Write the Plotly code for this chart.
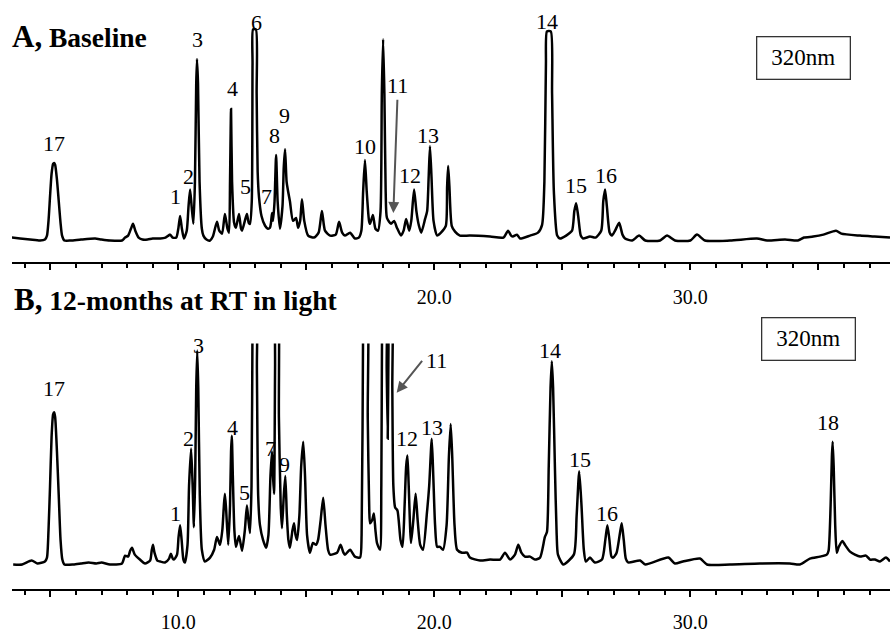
import plotly.graph_objects as go

# ---------------- data (retention time in min, absorbance in arbitrary units) -------------
time_a = [3.50,3.82,4.21,4.60,4.79,4.87,4.93,4.99,5.05,5.11,5.15,5.19,5.26,5.33,5.40,5.46,5.55,5.80,6.20,6.75,
          7.00,7.33,7.80,7.92,8.04,8.15,8.23,8.32,8.45,8.60,8.80,9.00,9.30,9.50,9.68,9.78,9.92,10.00,10.07,10.14,
          10.22,10.33,10.40,10.46,10.52,10.59,10.65,10.70,10.73,10.77,10.83,10.92,10.98,11.10,11.24,11.35,11.51,11.60,11.71,11.82,
          11.92,11.98,12.02,12.06,12.10,12.18,12.25,12.37,12.45,12.49,12.60,12.68,12.75,12.80,12.87,12.90,12.92,13.03,13.06,13.10,
          13.15,13.25,13.39,13.50,13.58,13.62,13.66,13.70,13.76,13.82,13.88,13.97,14.07,14.12,14.17,14.23,14.29,14.36,14.48,14.60,
          14.68,14.76,14.83,14.92,15.07,15.30,15.48,15.61,15.73,15.93,16.15,16.28,16.40,16.51,16.71,16.90,17.05,17.15,17.22,17.29,
          17.36,17.45,17.49,17.60,17.70,17.80,17.90,17.95,18.00,18.05,18.10,18.15,18.31,18.43,18.54,18.70,18.80,18.90,19.02,19.10,
          19.21,19.30,19.40,19.49,19.64,19.72,19.78,19.83,19.89,19.97,20.11,20.26,20.45,20.50,20.54,20.59,20.68,20.81,21.00,21.39,
          22.18,22.70,22.88,23.00,23.07,23.23,23.35,23.74,24.05,24.21,24.30,24.36,24.40,24.55,24.60,24.67,24.80,24.91,25.15,25.38,
          25.47,25.54,25.62,25.72,25.81,26.08,26.30,26.52,26.60,26.67,26.74,26.85,26.94,27.06,27.22,27.35,27.45,27.73,28.00,28.24,
          28.82,29.09,29.40,30.00,30.26,30.57,31.55,32.60,33.00,33.70,34.20,34.44,34.80,35.20,35.69,35.90,36.63,37.20,37.80]
abs_a = [3,2,1,0,1,5,20,45,68,78,79,77,62,40,18,5,0,0,1,2,
         1,0,0,3,5,12,17,10,3,1,1,2,2,3,6,3,3,12,25,12,
         2,10,35,52,35,17,60,160,185,160,60,12,5,1,0,4,19,10,7,27,
         12,8,60,134,60,18,13,27,12,10,20,27,18,17,40,180,215,215,150,70,
         45,25,15,12,13,18,28,20,40,87,40,12,35,75,93,60,50,40,20,23,
         13,20,42,20,5,3,8,30,10,5,6,19,8,5,8,2,3,10,50,82,
         50,20,17,26,12,10,30,150,205,150,50,23,17,20,13,5,10,22,10,20,
         52,30,15,8,22,30,65,96,65,20,5,8,15,55,76,55,15,9,5,5,
         4,3,10,5,4,6,2,5,8,16,60,180,213,213,150,50,5,2,5,10,
         30,38,25,5,2,4,3,10,40,52,35,8,5,10,18,6,2,0,5,0,
         0,5,0,0,6,0,0,2,0,1,0,3,4,6,10,7,5,4,3]

time_b = [3.55,3.90,4.27,4.50,4.79,4.87,4.93,4.99,5.05,5.11,5.15,5.19,5.26,5.33,5.40,5.47,5.55,5.90,6.20,6.50,
          6.80,7.00,7.33,7.80,7.92,8.04,8.12,8.19,8.30,8.50,8.70,8.90,8.96,9.01,9.07,9.18,9.29,9.48,9.64,9.71,
          9.78,9.83,9.95,10.01,10.07,10.13,10.20,10.26,10.36,10.42,10.50,10.56,10.61,10.66,10.70,10.74,10.78,10.84,10.92,11.04,
          11.24,11.40,11.51,11.63,11.72,11.78,11.82,11.87,11.95,12.02,12.06,12.09,12.13,12.19,12.25,12.37,12.49,12.60,12.68,12.74,
          12.80,12.86,12.90,12.92,13.04,13.07,13.12,13.19,13.31,13.43,13.52,13.60,13.66,13.70,13.74,13.78,13.82,13.88,13.93,14.00,
          14.05,14.12,14.18,14.24,14.30,14.36,14.46,14.52,14.58,14.64,14.73,14.80,14.88,14.95,15.03,15.14,15.26,15.38,15.46,15.56,
          15.66,15.75,15.85,15.93,16.20,16.34,16.45,16.51,16.71,16.90,17.10,17.16,17.22,17.25,17.36,17.40,17.46,17.49,17.57,17.64,
          17.70,17.76,17.88,17.93,17.96,17.99,18.10,18.14,18.18,18.21,18.24,18.33,18.36,18.40,18.47,18.56,18.68,18.76,18.84,18.90,
          18.95,19.00,19.09,19.18,19.27,19.35,19.45,19.56,19.71,19.80,19.90,19.96,20.03,20.11,20.22,20.34,20.48,20.57,20.64,20.70,
          20.79,20.89,21.08,21.28,21.39,21.79,22.18,22.57,22.76,22.96,23.15,23.28,23.40,23.54,23.74,23.93,24.13,24.32,24.40,24.47,
          24.54,24.59,24.64,24.71,24.78,24.83,25.04,25.45,25.56,25.66,25.75,25.84,25.92,26.08,26.27,26.55,26.68,26.76,26.84,26.92,
          26.99,27.12,27.24,27.32,27.40,27.48,27.57,28.04,28.24,29.14,29.40,29.71,30.38,30.65,31.55,32.72,33.89,34.28,34.67,35.06,
          35.33,35.40,35.48,35.53,35.56,35.60,35.66,35.72,35.80,35.94,36.04,36.24,36.43,36.63,36.86,37.02,37.21,37.41,37.64,37.80]
abs_b = [0,0,4,1,3,7,35,80,130,153,155,150,115,70,25,5,0,0,1,2,
         1,2,0,1,9,8,14,17,10,5,1,4,14,20,12,4,3,2,6,11,
         6,5,10,28,40,25,5,2,20,80,118,80,38,90,180,218,180,70,15,3,
         7,15,28,20,35,60,72,55,20,60,115,131,90,35,18,29,14,35,60,45,
         32,80,250,300,300,200,70,40,25,17,30,90,115,90,72,200,300,300,150,60,
         37,70,90,50,25,17,35,42,30,25,50,100,125,90,30,12,22,20,25,45,
         68,40,15,10,12,20,12,10,15,8,7,30,250,300,300,150,55,42,45,52,
         35,22,15,80,250,300,300,200,128,220,300,300,180,80,58,55,25,18,60,100,
         111,80,22,45,72,45,20,15,52,80,128,90,40,18,18,15,40,110,143,110,
         40,15,12,12,7,4,5,5,12,5,10,20,12,8,8,5,7,28,33,100,
         180,207,180,100,30,10,0,10,50,95,60,15,3,7,2,5,25,40,25,8,
         7,12,30,42,25,6,2,4,0,7,1,3,6,0,0,1,1,0,6,8,
         10,14,60,110,125,100,40,12,18,24,20,13,10,8,9,5,5,3,7,3]

major_ticks = [5, 10, 15, 20, 25, 30, 35]
ticktext_a = ["", "", "", "20.0", "", "30.0", ""]
ticktext_b = ["", "10.0", "", "20.0", "", "30.0", ""]
minor_ticks = [m for m in range(4, 38) if m % 5 != 0]

peak_labels_a = ["17", "1", "2", "3", "4", "5", "6", "7", "8", "9", "10", "11", "12", "13", "14", "15", "16"]
peak_pos_a = [(5.15, 99), (9.89, 45), (10.39, 65), (10.74, 205), (12.13, 155), (12.61, 55), (13.04, 222),
              (13.45, 45), (13.76, 107), (14.15, 127), (17.29, 96), (18.56, 158), (19.05, 66), (19.77, 107),
              (24.41, 223), (25.54, 56), (26.69, 66)]
peak_labels_b = ["17", "1", "2", "3", "4", "5", "6", "8", "7", "9", "10", "11", "12", "13", "14", "15", "16", "18"]
peak_pos_b = [(5.15, 179), (9.90, 52), (10.39, 128), (10.77, 223), (12.13, 140), (12.58, 73), (12.93, 238),
              (13.78, 238), (13.62, 118), (14.14, 102), (17.42, 239), (20.09, 208), (18.92, 128), (19.92, 140),
              (24.52, 218), (25.69, 107), (26.73, 52), (35.39, 145)]

SERIF = "Liberation Serif"
X_RANGE = [3.504, 37.80]

fig = go.Figure()
fig.add_trace(go.Scatter(x=time_a, y=abs_a, mode="lines", xaxis="x", yaxis="y",
                         line=dict(color="black", width=2.5, shape="spline", smoothing=0.6),
                         showlegend=False, hoverinfo="skip"))
fig.add_trace(go.Scatter(x=time_b, y=abs_b, mode="lines", xaxis="x2", yaxis="y2",
                         line=dict(color="black", width=2.5, shape="spline", smoothing=0.6),
                         showlegend=False, hoverinfo="skip"))


def xaxis_cfg(ticktext, anchor, standoff):
    return dict(domain=[0, 1], anchor=anchor, range=X_RANGE, showgrid=False, zeroline=False,
                showline=True, linecolor="black", linewidth=2,
                tickmode="array", tickvals=major_ticks, ticktext=ticktext,
                ticks="outside", ticklen=6, tickwidth=2, tickcolor="black",
                ticklabelstandoff=standoff,
                tickfont=dict(family=SERIF, size=20, color="black"),
                minor=dict(tickmode="array", tickvals=minor_ticks, ticks="outside",
                           ticklen=4, tickwidth=1.5, tickcolor="black", showgrid=False))


fig.update_layout(
    width=890, height=633,
    margin=dict(l=12, r=0, t=0, b=33),
    paper_bgcolor="white", plot_bgcolor="white",
    xaxis=xaxis_cfg(ticktext_a, "y", 10),
    yaxis=dict(domain=[333 / 600, 1], range=[-22, 245], visible=False, fixedrange=True),
    xaxis2=xaxis_cfg(ticktext_b, "y2", 8),
    yaxis2=dict(domain=[0, 250 / 600], range=[-25, 225], visible=False, fixedrange=True),
)

ann = []
for txt, (x, y) in zip(peak_labels_a, peak_pos_a):
    ann.append(dict(x=x, y=y, xref="x", yref="y", text=txt, showarrow=False,
                    font=dict(family=SERIF, size=22, color="black"), xanchor="center", yanchor="middle"))
for txt, (x, y) in zip(peak_labels_b, peak_pos_b):
    ann.append(dict(x=x, y=y, xref="x2", yref="y2", text=txt, showarrow=False,
                    font=dict(family=SERIF, size=22, color="black"), xanchor="center", yanchor="middle"))

# arrows pointing to peak 11
ann.append(dict(x=18.40, y=28, xref="x", yref="y", ax=18.56, ay=145, axref="x", ayref="y",
                text="", showarrow=True, arrowhead=2, arrowsize=1.1, arrowwidth=2, arrowcolor="#555555"))
ann.append(dict(x=18.53, y=175, xref="x2", yref="y2", ax=19.57, ay=209, axref="x2", ayref="y2",
                text="", showarrow=True, arrowhead=2, arrowsize=1.1, arrowwidth=2, arrowcolor="#555555"))

# panel titles
ann.append(dict(x=-0.0023, y=1 - 37 / 600, xref="paper", yref="paper", xanchor="left", yanchor="middle",
                text="<b><span style='font-size:31px'>A,</span> Baseline</b>", showarrow=False,
                font=dict(family=SERIF, size=27.5, color="black")))
ann.append(dict(x=0.0, y=1 - 305 / 600, xref="paper", yref="paper", xanchor="left", yanchor="middle",
                text="<b><span style='font-size:31px'>B,</span> 12-months at RT in light</b>", showarrow=False,
                font=dict(family=SERIF, size=27.5, color="black")))

# wavelength boxes
for cx, cy in [((803.7 - 12) / 878, 1 - 58.7 / 600), ((808.8 - 12) / 878, 1 - 345.8 / 600)]:
    ann.append(dict(x=cx, y=cy, xref="paper", yref="paper", xanchor="center", yanchor="middle",
                    text="320nm", showarrow=False, width=90, height=39, borderpad=1,
                    bordercolor="#333333", borderwidth=1.3,
                    font=dict(family=SERIF, size=23, color="black")))

fig.update_layout(annotations=ann)
fig.write_html("out.html")
